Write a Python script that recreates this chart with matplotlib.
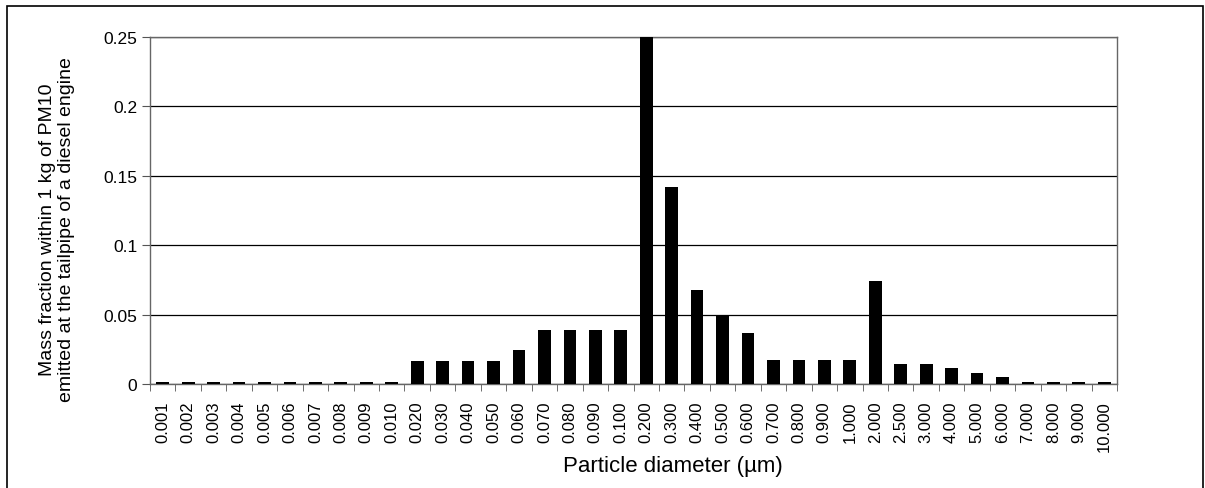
import numpy as np
import matplotlib.pyplot as plt
from matplotlib.patches import Rectangle

plt.rcParams["font.family"] = ["Liberation Sans", "DejaVu Sans"]

diameters = ["0.001", "0.002", "0.003", "0.004", "0.005", "0.006", "0.007", "0.008", "0.009", "0.010",
             "0.020", "0.030", "0.040", "0.050", "0.060", "0.070", "0.080", "0.090", "0.100",
             "0.200", "0.300", "0.400", "0.500", "0.600", "0.700", "0.800", "0.900", "1.000",
             "2.000", "2.500", "3.000", "4.000", "5.000", "6.000", "7.000", "8.000", "9.000", "10.000"]
mass_fraction = [0.0017, 0.0017, 0.0017, 0.0017, 0.0017, 0.0017, 0.0017, 0.0017, 0.0017, 0.0017,
                 0.0164, 0.0164, 0.0164, 0.0164, 0.0247, 0.039, 0.039, 0.039, 0.039,
                 0.25, 0.1417, 0.068, 0.0499, 0.0367, 0.0173, 0.0173, 0.0173, 0.0173,
                 0.074, 0.0146, 0.0146, 0.0113, 0.0077, 0.0053, 0.0017, 0.0017, 0.0017, 0.0017]
y_ticks = [0, 0.05, 0.1, 0.15, 0.2, 0.25]
y_tick_labels = ["0", "0.05", "0.1", "0.15", "0.2", "0.25"]

fig = plt.figure(figsize=(12.05, 4.89), dpi=100)
ax = fig.add_axes([150 / 1205, 1 - 385 / 489, (1117 - 150) / 1205, (385 - 37.7) / 489])

x = np.arange(len(diameters))
ax.bar(x, mass_fraction, width=0.5, color="black", zorder=3)

ax.set_xlim(-0.5, len(diameters) - 0.5)
ax.set_ylim(0, 0.25)
ax.set_yticks(y_ticks)
ax.set_yticklabels(y_tick_labels, fontsize=12.5)
ax.set_xticks(x)
ax.set_xticklabels(diameters, rotation=90, fontsize=12)
ax.tick_params(axis="x", length=0, pad=12)
# category boundary ticks
ax.set_xticks(np.arange(len(diameters) + 1) - 0.5, minor=True)
ax.tick_params(axis="x", which="minor", length=5, color="#555555", direction="out")
ax.tick_params(axis="y", length=6, color="#555555", direction="out", pad=3)

ax.grid(axis="y", color="black", linewidth=0.9, zorder=0)
for side in ["left", "bottom", "top", "right"]:
    ax.spines[side].set_color("#666666")
    ax.spines[side].set_linewidth(1.0)

fig.text(673 / 1205, 1 - 467 / 489, "Particle diameter (µm)", ha="center", va="center", fontsize=16)
fig.text(57 / 1205, 1 - 230 / 489, "Mass fraction within 1 kg of PM10\nemitted at the tailpipe of a diesel engine",
         rotation=90, ha="center", va="center", fontsize=14, linespacing=1.2)

fig.patches.append(Rectangle((7 / 1205, -0.05), 1196 / 1205, 1.05 - 7 / 489, transform=fig.transFigure,
                             fill=False, edgecolor="black", linewidth=1.2))

fig.savefig("out.png", dpi=100)
